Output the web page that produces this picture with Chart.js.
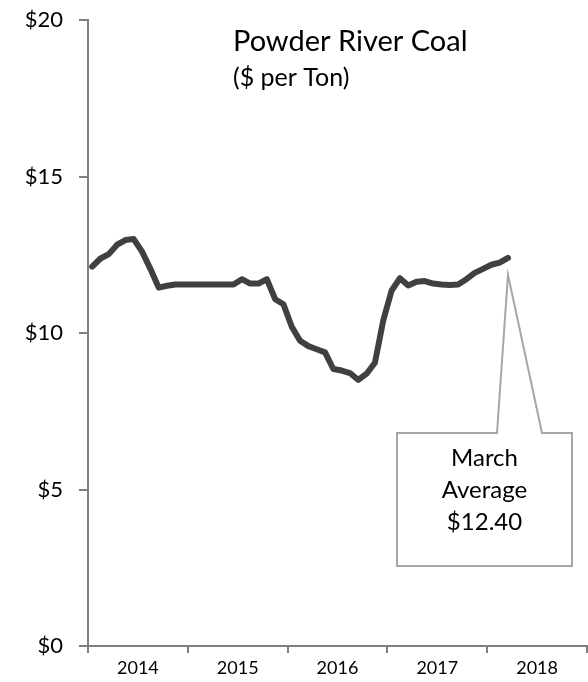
<!DOCTYPE html>
<html>
<head>
<meta charset="utf-8">
<script src="https://cdn.jsdelivr.net/npm/chart.js@4/dist/chart.umd.min.js"></script>
<style>
  html, body { margin: 0; padding: 0; background: #ffffff; }
  #wrap { position: relative; width: 588px; height: 682px; }
</style>
</head>
<body>
<div id="wrap"><canvas id="chart" width="588" height="682"></canvas></div>
<script>
// Monthly Powder River coal price, Jan 2014 through Mar 2018 ($ per ton)
const priceValues = [
  12.12, 12.38, 12.52, 12.82, 12.97, 13.00, 12.60, 12.05, 11.45, 11.51, 11.55, 11.55,
  11.55, 11.55, 11.55, 11.55, 11.55, 11.55, 11.72, 11.58, 11.58, 11.72, 11.08, 10.92,
  10.20, 9.75, 9.58, 9.48, 9.38, 8.85, 8.80, 8.72, 8.50, 8.70, 9.05, 10.40,
  11.35, 11.75, 11.52, 11.64, 11.66, 11.58, 11.55, 11.53, 11.55, 11.72, 11.92, 12.05,
  12.18, 12.25, 12.40
];
const yearLabels = ['2014', '2015', '2016', '2017', '2018'];
const yTicks = [0, 5, 10, 15, 20];
const titleText = 'Powder River Coal';
const subtitleText = '($ per Ton)';
const calloutLines = ['March', 'Average'];

const FONT = 'Lato, "Open Sans", sans-serif';
const AXIS_GRAY = '#7f7f7f';

// each month is plotted in the middle of its slot on the month axis
const points = priceValues.map((v, i) => ({ x: i + 0.5, y: v }));

// Titles drawn inside the plot area
const titlePlugin = {
  id: 'titleText',
  afterDraw(chart) {
    const { ctx, chartArea } = chart;
    ctx.save();
    ctx.fillStyle = '#000000';
    ctx.textAlign = 'left';
    ctx.textBaseline = 'middle';
    ctx.font = '29px ' + FONT;
    ctx.fillText(titleText, chartArea.left + 145, chartArea.top + 22);
    ctx.font = '25px ' + FONT;
    ctx.fillText(subtitleText, chartArea.left + 145, chartArea.top + 58);
    ctx.restore();
  }
};

// Callout box pointing at the latest monthly value
const calloutPlugin = {
  id: 'callout',
  afterDatasetsDraw(chart) {
    const { ctx, chartArea } = chart;
    const meta = chart.getDatasetMeta(0);
    const last = meta.data[meta.data.length - 1];
    const lastValue = priceValues[priceValues.length - 1];
    const tipX = last.x;
    const tipY = last.y + 17;
    const left = chartArea.left + 309, right = chartArea.left + 484;
    const top = chartArea.top + 413, bottom = chartArea.top + 546;
    const baseL = chartArea.left + 409, baseR = chartArea.left + 454;
    ctx.save();
    ctx.lineWidth = 2;
    ctx.strokeStyle = '#a6a6a6';
    ctx.fillStyle = '#ffffff';
    ctx.lineJoin = 'miter';
    ctx.beginPath();
    ctx.moveTo(left, top);
    ctx.lineTo(baseL, top);
    ctx.lineTo(tipX, tipY);
    ctx.lineTo(baseR, top);
    ctx.lineTo(right, top);
    ctx.lineTo(right, bottom);
    ctx.lineTo(left, bottom);
    ctx.closePath();
    ctx.fill();
    ctx.stroke();
    ctx.fillStyle = '#000000';
    ctx.font = '24px ' + FONT;
    ctx.textAlign = 'center';
    ctx.textBaseline = 'middle';
    const cx = (left + right) / 2;
    const lines = calloutLines.concat(['$' + lastValue.toFixed(2)]);
    lines.forEach((t, k) => ctx.fillText(t, cx, top + 25 + k * 32));
    ctx.restore();
  }
};

new Chart(document.getElementById('chart'), {
  type: 'line',
  data: {
    datasets: [{
      data: points,
      borderColor: '#404040',
      borderWidth: 6,
      pointRadius: 0,
      tension: 0,
      borderJoinStyle: 'round',
      borderCapStyle: 'round',
      fill: false
    }]
  },
  options: {
    responsive: false,
    animation: false,
    devicePixelRatio: 1,
    layout: { padding: { top: 20, right: 1, left: 0, bottom: 0 } },
    plugins: { legend: { display: false }, tooltip: { enabled: false } },
    scales: {
      x: {
        type: 'linear',
        min: 0,
        max: 60,
        afterBuildTicks(scale) {
          const t = [];
          for (let v = 0; v <= 60; v += 6) t.push({ value: v });
          scale.ticks = t;
        },
        afterFit(scale) {
          scale.height = 36;
          scale.paddingLeft = 0;
          scale.paddingRight = 0;
        },
        ticks: {
          autoSkip: false,
          maxRotation: 0,
          padding: 4,
          color: '#000000',
          font: { family: FONT, size: 18 },
          callback(v) {
            return v % 12 === 6 ? yearLabels[(v - 6) / 12] : '';
          }
        },
        grid: {
          drawOnChartArea: false,
          drawTicks: true,
          tickLength: 7,
          lineWidth: 2,
          color(ctx) {
            return ctx.tick && ctx.tick.value % 12 === 0 ? AXIS_GRAY : 'rgba(0,0,0,0)';
          }
        },
        border: { display: true, color: AXIS_GRAY, width: 2 }
      },
      y: {
        min: 0,
        max: 20,
        afterBuildTicks(scale) {
          scale.ticks = yTicks.map(v => ({ value: v }));
        },
        afterFit(scale) {
          scale.width = 88;
          scale.paddingTop = 0;
          scale.paddingBottom = 0;
        },
        ticks: {
          padding: 16,
          color: '#000000',
          font: { family: FONT, size: 22 },
          callback(v) { return '$' + v; }
        },
        grid: {
          drawOnChartArea: false,
          drawTicks: true,
          tickLength: 9,
          lineWidth: 2,
          color: AXIS_GRAY
        },
        border: { display: true, color: AXIS_GRAY, width: 2 }
      }
    }
  },
  plugins: [titlePlugin, calloutPlugin]
});
</script>
</body>
</html>
